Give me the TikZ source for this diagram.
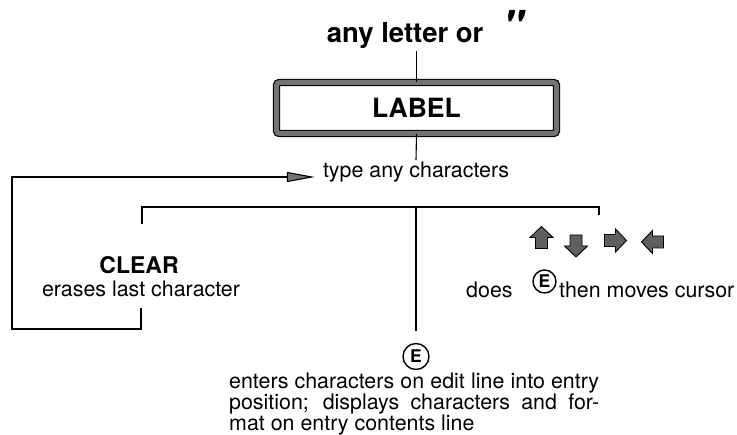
\documentclass[tikz,border=0pt]{standalone}
\usepackage{fontspec}
\setmainfont{TeX Gyre Heros}
\newfontfamily\quotefont{TeX Gyre Heros}[Ligatures=TeXOff]
\usepackage{tikz}
\usetikzlibrary{arrows.meta}
\definecolor{keygray}{RGB}{95,95,95}
\definecolor{framegray}{RGB}{115,115,115}

\tikzset{
  cursorkey/.pic={
    \filldraw[draw=black, line width=0.9pt, fill=keygray]
      (0,-11) -- (11.5,0) -- (6,0) -- (6,11) -- (-6,11) -- (-6,0) -- (-11.5,0) -- cycle;
  }
}

\begin{document}
\begin{tikzpicture}[
  x=1pt, y=-1pt,
  every node/.style={inner sep=2pt, font=\fontsize{21.4}{20}\selectfont},
  title/.style={font=\bfseries\fontsize{27.5}{28}\selectfont},
  labelbox/.style={draw=black, line width=1.2pt, double=framegray, double distance=5pt,
                   rounded corners=3pt, minimum width=280pt, minimum height=51pt,
                   font=\bfseries\fontsize{26.5}{28}\selectfont},
  keyring/.style={circle, draw=black, line width=1.4pt, inner sep=0pt,
                  minimum size=23pt, font=\bfseries\fontsize{17.5}{17.5}\selectfont},
  link/.style={line width=1.1pt},
  loop/.style={link, -{Triangle[length=28pt, width=10pt, fill=framegray]}}
]
\useasboundingbox (0,0) rectangle (737,435);

\node[title, anchor=base] (anyletter) at (425,43)
  {any letter or\hspace{19pt}{\quotefont\bfseries\itshape\fontsize{44}{44}\selectfont\symbol{34}}};
\node[labelbox] (label) at (416.5,108) {LABEL};
\node[anchor=base] (type) at (416,178) {type any characters};

\node[anchor=base, font=\bfseries\fontsize{23}{23}\selectfont] (clearkey) at (139,274) {CLEAR};
\node[anchor=base] (clearnote) at (141,297) {erases last character};

\pic at (541.5,237.5) {cursorkey};
\pic[rotate=180] at (576,246) {cursorkey};
\pic[rotate=-90] at (615.5,240.5) {cursorkey};
\pic[rotate=90] at (652.5,242) {cursorkey};
\node[anchor=base west] (does) at (464,298) {does};
\node[keyring] (doesE) at (544.5,281.5) {E};
\node[anchor=base west] (moves) at (557,298) {then moves cursor};

\node[keyring, minimum size=26pt] (enter) at (416,356.5) {E};
\node[anchor=north west, text width=370pt, align=justify,
      font=\fontsize{21.4}{19.5}\selectfont] (enternote) at (227,370.5)
  {enters characters on edit line into entry\linebreak
   position; displays characters and for-\linebreak
   mat on entry contents line};

% bracket over the three keys
\coordinate (bar) at (416,207);
\coordinate (legclear) at (142,224);
\coordinate (legcursor) at (599,215);
\coordinate (loopcorner) at (12,329);

\draw[link] (label.north |- anyletter.south) -- (label.north);
\draw[link] (label.south) -- (type.north);
\draw[link] (legclear) |- (bar) -| (legcursor);
\draw[link, shorten >=12pt] (bar) -- (enter);
\draw[loop, shorten <=8pt] (clearnote.south) |- (loopcorner) |- ([xshift=-6pt, yshift=1pt]type.base west);
\end{tikzpicture}
\end{document}
